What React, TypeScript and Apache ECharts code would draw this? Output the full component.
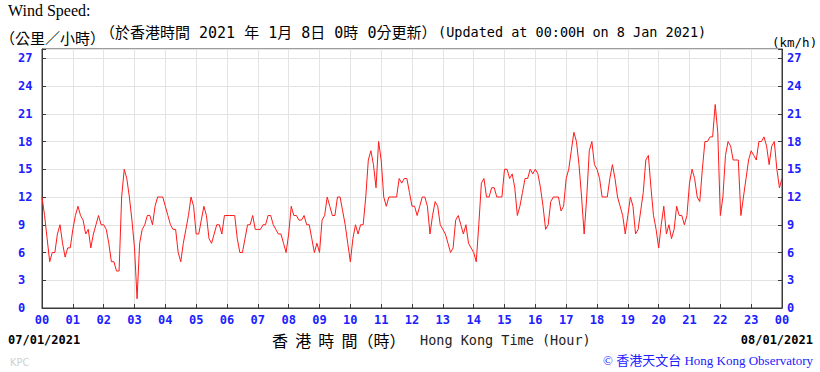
import React, { useEffect, useRef } from "react";
import * as echarts from "echarts";

// X-axis hour tick labels (00 .. 23, then 00 of next day)
const hourLabels = [
  "00", "01", "02", "03", "04", "05", "06", "07", "08", "09", "10", "11",
  "12", "13", "14", "15", "16", "17", "18", "19", "20", "21", "22", "23", "00",
];

// Y-axis tick values (km/h)
const yTicks = [0, 3, 6, 9, 12, 15, 18, 21, 24, 27];

// Samples every 5 minutes (12 per hour), 00:00 on 7 Jan to 00:00 on 8 Jan 2021
const SAMPLES_PER_HOUR = 12;

// Wind speed (km/h), one row per hour
const windSpeed = [
  12, 10, 7.5, 5, 6, 6, 8, 9, 7, 5.5, 6.5, 6.5, // 00
  8.5, 10, 11, 10, 9.5, 8, 8.5, 6.5, 8, 9, 10, 9, // 01
  9, 8.5, 7, 5, 5, 4, 4, 12, 15, 14, 12, 9.5, // 02
  6.5, 1, 7, 8.5, 9, 10, 10, 9, 11, 12, 12, 12, // 03
  11, 10, 9, 8.5, 8.5, 6, 5, 7, 8.5, 10, 12, 11, // 04
  8, 8, 9.5, 11, 10, 7.5, 7, 8, 9, 9, 8, 10, // 05
  10, 10, 10, 10, 7.5, 6, 6, 7.5, 9, 9, 10, 8.5, // 06
  8.5, 8.5, 9, 9, 10, 10, 9, 8.5, 8, 8, 7, 6, // 07
  8, 11, 10, 10, 9.5, 9.5, 10, 9, 9, 7.5, 6, 7, // 08
  6, 9.5, 10, 12, 11, 10, 10, 12, 12, 10.5, 9, 7, // 09
  5, 7.5, 9, 8, 9, 9, 12, 16, 17, 15.5, 13, 18, // 10
  16, 12, 11, 12, 12, 12, 12, 14, 13.5, 14, 14, 12.5, // 11
  11, 11, 10, 11, 12, 12, 11, 8, 10, 11.5, 11, 9, // 12
  8.5, 8, 7, 6, 6.5, 9.5, 10, 9, 8, 9, 7, 6.5, // 13
  6, 5, 9, 13.5, 14, 12, 12, 13, 13, 12, 12, 12, // 14
  15, 15, 14, 14.5, 13, 10, 11, 12.5, 14, 14, 15, 14.5, // 15
  15, 14.5, 13, 11, 8.5, 9, 11.5, 12, 12, 12, 10.5, 11, // 16
  14, 15, 17, 19, 18, 15.5, 12, 8, 12, 17, 18, 15.5, // 17
  15, 14, 12, 12, 12, 14, 15.5, 14, 12, 11, 10, 8, // 18
  10, 12, 11, 8, 8.5, 10.5, 12.5, 16, 16.5, 13, 10, 8.5, // 19
  6.5, 9, 11, 8, 9, 7.5, 8.5, 11, 10, 10, 9, 10, // 20
  13.5, 15, 14, 12, 11.5, 15, 18, 18, 18.5, 18.5, 22, 19, // 21
  10, 12, 16.5, 18, 17.5, 16, 16, 16, 10, 12, 14, 16, // 22
  17, 16.5, 16, 18, 18, 18.5, 17.5, 15.5, 17.5, 18, 15, 13, // 23
  14, // 24 (00 next day)
];

export default function App() {
  const ref = useRef<HTMLDivElement>(null);

  useEffect(() => {
    if (!ref.current) return;
    const chart = echarts.init(ref.current, null, { renderer: "svg" });
    const data = windSpeed.map((v, i) => [i / SAMPLES_PER_HOUR, v]);
    const blue = "#2020ff";
    const frame = "#3a3a3a";
    const grid = "#e3e3e3";
    const mono = '"DejaVu Sans Mono", "Liberation Mono", monospace';
    const labelCommon = {
      color: blue,
      fontWeight: "bold" as const,
      fontFamily: mono,
      fontSize: 12,
    };
    const yFormatter = (v: number) => (yTicks.indexOf(v) >= 0 ? String(v) : "");

    chart.setOption({
      animation: false,
      backgroundColor: "#ffffff",
      grid: {
        left: 42,
        right: 38,
        top: 49,
        bottom: 64,
        show: true,
        borderColor: frame,
        borderWidth: 1,
        backgroundColor: "#ffffff",
      },
      xAxis: {
        type: "value",
        min: 0,
        max: 24,
        interval: 1,
        axisLine: { show: true, lineStyle: { color: frame } },
        axisTick: { show: true, inside: true, length: 4, lineStyle: { color: frame } },
        axisLabel: {
          ...labelCommon,
          margin: 6,
          formatter: (v: number) => hourLabels[Math.round(v)] ?? "",
        },
        splitLine: { show: true, lineStyle: { color: grid, width: 1 } },
      },
      yAxis: [
        {
          type: "value",
          min: 0,
          max: 28,
          interval: 3,
          position: "left",
          axisLine: { show: true, lineStyle: { color: frame } },
          axisTick: { show: true, inside: true, length: 4, lineStyle: { color: frame } },
          axisLabel: { ...labelCommon, align: "left", margin: 24, formatter: yFormatter },
          splitLine: { show: true, lineStyle: { color: grid, width: 1 } },
        },
        {
          type: "value",
          min: 0,
          max: 28,
          interval: 3,
          position: "right",
          axisLine: { show: true, lineStyle: { color: frame } },
          axisTick: { show: true, inside: true, length: 4, lineStyle: { color: frame } },
          axisLabel: { ...labelCommon, align: "left", margin: 5, formatter: yFormatter },
          splitLine: { show: false },
        },
      ],
      series: [
        {
          type: "line",
          data,
          yAxisIndex: 0,
          symbol: "none",
          showSymbol: false,
          lineStyle: { color: "#ff1a1a", width: 1 },
          z: 5,
        },
      ],
      graphic: [
        {
          type: "text",
          x: 8,
          y: 10,
          style: {
            text: "Wind Speed:",
            fill: "#000",
            font: '16px "Liberation Serif", serif',
            textVerticalAlign: "middle",
          },
        },
        {
          type: "text",
          x: 0,
          y: 37,
          style: {
            text: "（公里／小時）",
            fill: "#000",
            font: '15px "Noto Sans CJK TC", sans-serif',
            textVerticalAlign: "middle",
          },
        },
        {
          type: "text",
          x: 100,
          y: 33,
          style: {
            text: "（於香港時間 2021 年 1月 8日 0時 0分更新）",
            fill: "#000",
            font: '15px "DejaVu Sans Mono", "Noto Sans CJK TC", monospace',
            textVerticalAlign: "middle",
          },
        },
        {
          type: "text",
          x: 438,
          y: 31.5,
          style: {
            text: "(Updated at 00:00H on 8 Jan 2021)",
            fill: "#000",
            font: `13.5px ${mono}`,
            textVerticalAlign: "middle",
          },
        },
        {
          type: "text",
          x: 772,
          y: 42,
          style: {
            text: "(km/h)",
            fill: "#000",
            font: `12.5px ${mono}`,
            textVerticalAlign: "middle",
          },
        },
        {
          type: "text",
          x: 8,
          y: 340,
          style: {
            text: "07/01/2021",
            fill: "#000",
            font: `bold 12px ${mono}`,
            textVerticalAlign: "middle",
          },
        },
        {
          type: "text",
          x: 813,
          y: 340,
          style: {
            text: "08/01/2021",
            fill: "#000",
            font: `bold 12px ${mono}`,
            textAlign: "right",
            textVerticalAlign: "middle",
          },
        },
        {
          type: "text",
          x: 272,
          y: 340,
          style: {
            text: "香  港  時  間（時）",
            fill: "#000",
            font: '16px "Noto Sans CJK TC", sans-serif',
            textVerticalAlign: "middle",
          },
        },
        {
          type: "text",
          x: 420,
          y: 340,
          style: {
            text: "Hong Kong Time (Hour)",
            fill: "#222",
            font: `13.5px ${mono}`,
            textVerticalAlign: "middle",
          },
        },
        {
          type: "text",
          x: 10,
          y: 362,
          style: {
            text: "KPC",
            fill: "#d0d0d0",
            font: '10px "DejaVu Sans", sans-serif',
            textVerticalAlign: "middle",
          },
        },
        {
          type: "text",
          x: 813,
          y: 360,
          style: {
            text: "© 香港天文台 Hong Kong Observatory",
            fill: blue,
            font: '13px "Liberation Serif", "Noto Sans CJK TC", serif',
            textAlign: "right",
            textVerticalAlign: "middle",
          },
        },
      ],
    });

    return () => {
      chart.dispose();
    };
  }, []);

  return (
    <div
      ref={ref}
      style={{ position: "fixed", left: 0, top: 0, width: 820, height: 372 }}
    />
  );
}
